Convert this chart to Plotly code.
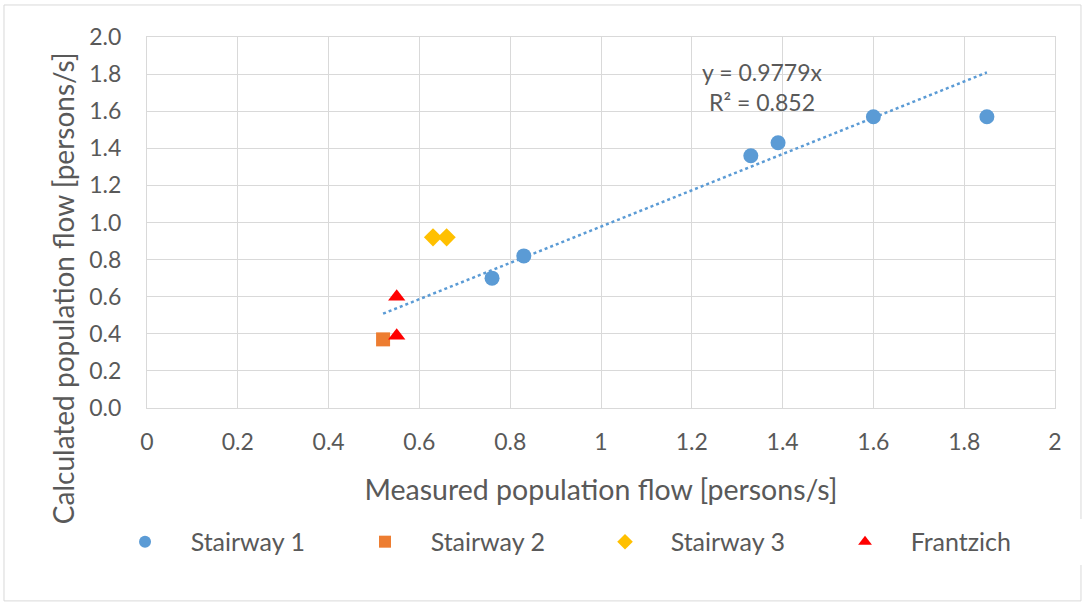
import plotly.graph_objects as go

s1_x = [0.76, 0.83, 1.33, 1.39, 1.60, 1.85]
s1_y = [0.70, 0.82, 1.36, 1.43, 1.57, 1.57]
s2_x = [0.52]
s2_y = [0.37]
s3_x = [0.63, 0.66]
s3_y = [0.92, 0.92]
fr_x = [0.55, 0.55]
fr_y = [0.60, 0.39]
slope = 0.9779
trend_x = [0.52, 1.85]
x_ticks = [0, 0.2, 0.4, 0.6, 0.8, 1, 1.2, 1.4, 1.6, 1.8, 2]
x_tick_labels = ["0", "0.2", "0.4", "0.6", "0.8", "1", "1.2", "1.4", "1.6", "1.8", "2"]
series_names = ["Stairway 1", "Stairway 2", "Stairway 3", "Frantzich"]

font = "Lato, 'Open Sans', sans-serif"
gray = "#595959"
pad = "\u00a0" * 4

fig = go.Figure()
fig.add_trace(go.Scatter(x=trend_x, y=[slope * v for v in trend_x], mode="lines",
                         line=dict(color="#5B9BD5", width=2.5, dash="dot"),
                         showlegend=False, hoverinfo="skip"))
fig.add_trace(go.Scatter(x=s1_x, y=s1_y, mode="markers", name=pad + series_names[0],
                         marker=dict(symbol="circle", size=15, color="#5B9BD5")))
fig.add_trace(go.Scatter(x=s2_x, y=s2_y, mode="markers", name=pad + series_names[1],
                         marker=dict(symbol="square", size=14, color="#ED7D31")))
fig.add_trace(go.Scatter(x=s3_x, y=s3_y, mode="markers", name=pad + series_names[2],
                         marker=dict(symbol="diamond", size=14, color="#FFC000")))
fig.add_trace(go.Scatter(x=fr_x, y=fr_y, mode="markers", name=pad + series_names[3],
                         marker=dict(symbol="triangle-up", size=15, color="#FF0000")))

fig.add_annotation(x=1.355, y=1.73, xref="x", yref="y", showarrow=False,
                   text="y = 0.9779x<br>R² = 0.852", align="center",
                   font=dict(family=font, size=23, color=gray))

# y-axis title (centred on the chart area as in the reference)
fig.add_annotation(x=-0.0925, y=0.323, xref="paper", yref="paper", showarrow=False,
                   text="Calculated population flow [persons/s]", textangle=-90,
                   xanchor="center", yanchor="middle",
                   font=dict(family=font, size=28, color=gray))

fig.add_shape(type="rect", xref="paper", yref="paper",
              x0=-0.1575, x1=1.0286, y0=-0.52, y1=1.0863,
              line=dict(color="#D9D9D9", width=1), fillcolor="rgba(0,0,0,0)", layer="below")

fig.update_layout(
    width=1087, height=604,
    margin=dict(l=147, r=32, t=37, b=196),
    paper_bgcolor="white", plot_bgcolor="white",
    font=dict(family=font, size=23, color=gray),
    xaxis=dict(range=[0, 2], tickvals=x_ticks, ticktext=x_tick_labels,
               showgrid=True, gridcolor="#D9D9D9", gridwidth=1,
               showline=True, linecolor="#D9D9D9", mirror=True, zeroline=False,
               ticks="", ticklabelstandoff=13, automargin=False,
               tickfont=dict(size=23, color=gray),
               title=dict(text="Measured population flow [persons/s]",
                          font=dict(size=28.5, color=gray), standoff=26)),
    yaxis=dict(range=[0, 2.0], dtick=0.2, tickformat=".1f",
               showgrid=True, gridcolor="#D9D9D9", gridwidth=1,
               showline=True, linecolor="#D9D9D9", mirror=True, zeroline=False,
               ticks="", ticklabelstandoff=20, automargin=False,
               tickfont=dict(size=23, color=gray)),
    legend=dict(orientation="h", x=-0.0242, y=-0.361, xanchor="left", yanchor="middle",
                entrywidth=195, entrywidthmode="pixels",
                font=dict(size=25, color=gray), itemsizing="constant"),
)

fig.write_html("out.html")
